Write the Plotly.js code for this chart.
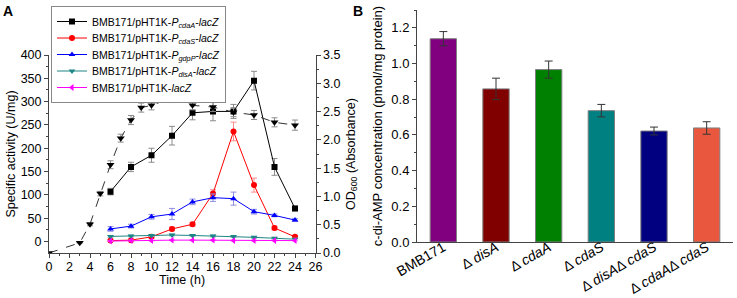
<!DOCTYPE html>
<html>
<head>
<meta charset="utf-8">
<script src="https://cdn.plot.ly/plotly-3.0.1.min.js"></script>
<style>html,body{margin:0;padding:0;background:#fff}#chart{width:737px;height:298px}</style>
</head>
<body>
<div id="chart"></div>
<script>
// ---- Panel A data ----
const timeA = [6, 8, 10, 12, 14, 16, 18, 20, 22, 24];
const cdaA = [107, 160, 185, 227, 276, 279, 279, 345, 160, 71];
const cdaAErr = [7, 10, 15, 20, 15, 20, 15, 20, 18, 5];
const cdaS = [2, 3, 10, 27, 37, 103, 236, 121, 29, 10];
const cdaSErr = [2, 2, 3, 4, 4, 8, 20, 15, 4, 3];
const gdpP = [27, 33, 53, 59, 85, 94, 92, 64, 56, 46];
const gdpPErr = [5, 4, 5, 12, 6, 8, 14, 5, 3, 3];
const disA = [11, 12, 13, 14, 13, 12, 11, 9, 7, 5];
const disAErr = [2, 2, 2, 2, 2, 2, 2, 2, 2, 2];
const lacZ = [1, 2, 2, 3, 3, 3, 2, 2, 2, 2];
const lacZErr = [1, 1, 1, 1, 1, 1, 1, 1, 1, 1];
const timeOD = [0, 3, 4, 5, 6, 7, 8, 9, 10, 12, 14, 16, 18, 20, 22, 24];
const od600 = [0.0, 0.18, 0.51, 1.05, 1.56, 2.03, 2.35, 2.57, 2.61, 2.74, 2.61, 2.58, 2.49, 2.44, 2.31, 2.26];
const od600Err = [0, 0, 0.03, 0.04, 0.07, 0.07, 0.08, 0.08, 0.08, 0.08, 0.08, 0.08, 0.08, 0.08, 0.08, 0.09];

// ---- Panel B data ----
const strains = ["BMB171", "Δ <i>disA</i>", "Δ <i>cdaA</i>", "Δ <i>cdaS</i>", "Δ <i>disA</i>Δ <i>cdaS</i>", "Δ <i>cdaA</i>Δ <i>cdaS</i>"];
const cdiAMP = [1.139, 0.858, 0.966, 0.736, 0.622, 0.639];
const cdiAMPErr = [0.04, 0.06, 0.048, 0.035, 0.022, 0.035];
const barColors = ["#800080", "#800000", "#008000", "#008080", "#000080", "#E8573E"];

const FONT = "Liberation Sans, Arial, sans-serif";

function series(name, y, err, color, errColor, symbol) {
  return {
    type: "scatter", mode: "lines+markers", name: name,
    x: timeA, y: y, xaxis: "x", yaxis: "y",
    line: {color: color, width: 1},
    marker: {color: color, symbol: symbol, size: 6},
    error_y: {type: "data", array: err, visible: true, color: errColor, thickness: 1, width: 3}
  };
}

const traces = [
  series("BMB171/pHT1K-<i>P</i><sub><i>cdaA</i></sub>-<i>lacZ</i>", cdaA, cdaAErr, "#000000", "#8c8c8c", "square"),
  series("BMB171/pHT1K-<i>P</i><sub><i>cdaS</i></sub>-<i>lacZ</i>", cdaS, cdaSErr, "#FF0000", "#ff8a8a", "circle"),
  series("BMB171/pHT1K-<i>P</i><sub><i>gdpP</i></sub>-<i>lacZ</i>", gdpP, gdpPErr, "#0000FF", "#8f8fe0", "triangle-up"),
  series("BMB171/pHT1K-<i>P</i><sub><i>disA</i></sub>-<i>lacZ</i>", disA, disAErr, "#1E8585", "#8cc0c0", "triangle-down"),
  series("BMB171/pHT1K-<i>lacZ</i>", lacZ, lacZErr, "#FF00FF", "#ff99ff", "triangle-left"),
  {
    type: "scatter", mode: "lines+markers", name: "OD600", showlegend: false,
    x: timeOD, y: od600, xaxis: "x", yaxis: "y2",
    line: {color: "#333333", width: 1, dash: "dash"},
    marker: {color: "#000000", symbol: "triangle-down", size: 7},
    error_y: {type: "data", array: od600Err, visible: true, color: "#8c8c8c", thickness: 1, width: 3}
  },
  {
    type: "bar", x: strains, y: cdiAMP, xaxis: "x3", yaxis: "y3", showlegend: false,
    width: 0.5,
    marker: {color: barColors, line: {color: "#7f7f7f", width: 1}},
    error_y: {type: "data", array: cdiAMPErr, visible: true, color: "#333333", thickness: 1, width: 4}
  }
];

const axisBase = {
  showgrid: false, zeroline: false, showline: true, linecolor: "#444", linewidth: 1,
  ticks: "outside", ticklen: 4, tickcolor: "#444", tickwidth: 1,
  tickfont: {family: FONT, size: 12.5, color: "#000"}
};

const layout = {
  width: 737, height: 298,
  margin: {l: 0, r: 0, t: 0, b: 0},
  paper_bgcolor: "#fff", plot_bgcolor: "rgba(0,0,0,0)",
  font: {family: FONT, color: "#000"},
  showlegend: true,
  legend: {
    x: 51 / 737, y: 1 - 6 / 298, xanchor: "left", yanchor: "top",
    bordercolor: "#888", borderwidth: 1, bgcolor: "#fff",
    font: {family: FONT, size: 10.5, color: "#000"},
    tracegroupgap: 0, itemwidth: 30
  },
  xaxis: Object.assign({}, axisBase, {
    domain: [49 / 737, 315.5 / 737], anchor: "y", range: [0, 26],
    tickmode: "linear", tick0: 0, dtick: 2, ticklabelstandoff: -2,
    minor: {ticks: "outside", ticklen: 2, dtick: 1, tickcolor: "#444"}
  }),
  yaxis: Object.assign({}, axisBase, {
    domain: [1 - 253 / 298, 1 - 55 / 298], anchor: "x", range: [-24.6, 400],
    tickmode: "linear", tick0: 0, dtick: 50,
    minor: {ticks: "outside", ticklen: 2, dtick: 25, tickcolor: "#444"},
    title: {text: "Specific activity (U/mg)", font: {family: FONT, size: 12.5}, standoff: 2}
  }),
  yaxis2: Object.assign({}, axisBase, {
    domain: [1 - 253 / 298, 1 - 55 / 298], anchor: "x", overlaying: "y", side: "right",
    range: [0, 3.5], tickmode: "linear", tick0: 0, dtick: 0.5, tickformat: ".1f",
    minor: {ticks: "outside", ticklen: 2, dtick: 0.25, tickcolor: "#444"},
    title: {text: "OD<sub>600</sub> (Absorbance)", font: {family: FONT, size: 12.5}, standoff: 6}
  }),
  xaxis3: Object.assign({}, axisBase, {
    domain: [417 / 737, 733 / 737], anchor: "y3", range: [-0.5, 5.5],
    ticks: "", tickangle: -30, ticklabelstandoff: -9,
    tickfont: {family: FONT, size: 14, color: "#000"}
  }),
  yaxis3: Object.assign({}, axisBase, {
    domain: [1 - 242 / 298, 1 - 10 / 298], anchor: "x3", range: [0, 1.3],
    tickmode: "linear", tick0: 0, dtick: 0.2, tickformat: ".1f",
    minor: {ticks: "outside", ticklen: 2, dtick: 0.1, tickcolor: "#444"},
    tickfont: {family: FONT, size: 13, color: "#000"},
    title: {text: "c-di-AMP concentration (pmol/mg protein)", font: {family: FONT, size: 13}, standoff: 5}
  }),
  annotations: [
    {text: "<b>A</b>", xref: "paper", yref: "paper", x: 8 / 737, y: 1 - 11 / 298, xanchor: "center", yanchor: "middle", showarrow: false, font: {family: FONT, size: 14, color: "#000"}},
    {text: "<b>B</b>", xref: "paper", yref: "paper", x: 358 / 737, y: 1 - 11 / 298, xanchor: "center", yanchor: "middle", showarrow: false, font: {family: FONT, size: 14, color: "#000"}},
    {text: "Time (h)", xref: "paper", yref: "paper", x: 182 / 737, y: 1 - 280 / 298, xanchor: "center", yanchor: "middle", showarrow: false, font: {family: FONT, size: 12.5, color: "#000"}}
  ]
};

// Tighten the legend row spacing to match the reference (Plotly's minimum row height is larger).
function tightenLegend(gd, step) {
  const items = gd.querySelectorAll(".legend .traces");
  if (items.length < 2) return;
  const parse = el => {
    const m = /translate\(\s*([-\d.e]+)[ ,]+([-\d.e]+)\s*\)/.exec(el.getAttribute("transform") || "");
    return m ? [parseFloat(m[1]), parseFloat(m[2])] : null;
  };
  const p0 = parse(items[0]), p1 = parse(items[1]);
  if (!p0 || !p1) return;
  const oldStep = p1[1] - p0[1];
  const shrink = (oldStep - step) * (items.length - 1);
  items.forEach((el, i) => {
    const p = parse(el);
    if (p) el.setAttribute("transform", "translate(" + p[0] + "," + (p0[1] + i * step) + ")");
  });
  gd.querySelectorAll(".legend rect.bg").forEach(r => {
    const h = parseFloat(r.getAttribute("height"));
    if (!isNaN(h)) r.setAttribute("height", h - shrink);
  });
}

Plotly.newPlot("chart", traces, layout, {displayModeBar: false, staticPlot: true})
  .then(gd => tightenLegend(gd, 16.5));
</script>
</body>
</html>
